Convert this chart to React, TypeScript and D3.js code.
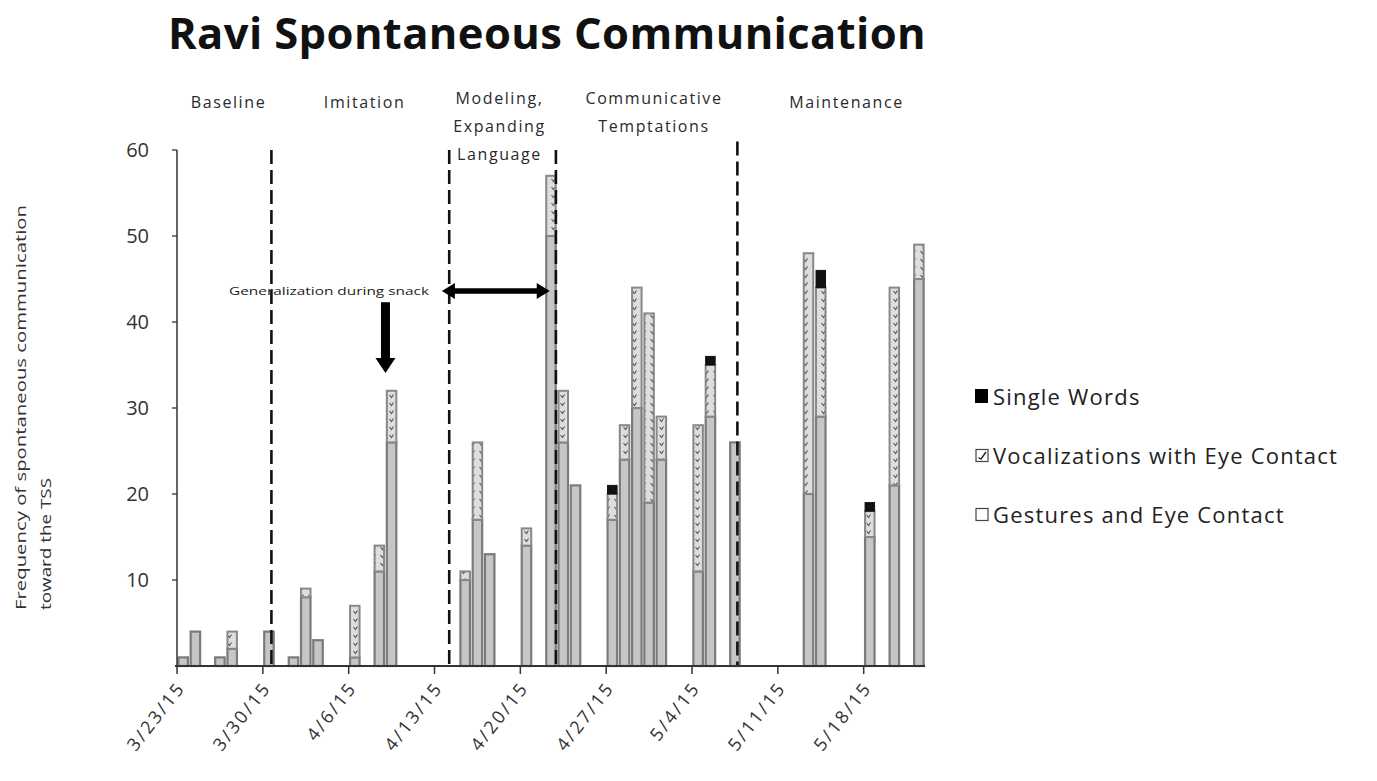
import React from "react";
import * as d3 from "d3";

const sessionDates = [
  "2015-03-23", "2015-03-24", "2015-03-26", "2015-03-27", "2015-03-30",
  "2015-04-01", "2015-04-02", "2015-04-03", "2015-04-06", "2015-04-08", "2015-04-09",
  "2015-04-15", "2015-04-16", "2015-04-17", "2015-04-20", "2015-04-22", "2015-04-23", "2015-04-24",
  "2015-04-27", "2015-04-28", "2015-04-29", "2015-04-30", "2015-05-01", "2015-05-04", "2015-05-05", "2015-05-07",
  "2015-05-13", "2015-05-14", "2015-05-18", "2015-05-20", "2015-05-22",
];
const gestures = [1, 4, 1, 2, 4, 1, 8, 3, 1, 11, 26, 10, 17, 13, 14, 50, 26, 21, 17, 24, 30, 19, 24, 11, 29, 26, 20, 29, 15, 21, 45];
const vocalizations = [0, 0, 0, 2, 0, 0, 1, 0, 6, 3, 6, 1, 9, 0, 2, 7, 6, 0, 3, 4, 14, 22, 5, 17, 6, 0, 28, 15, 3, 23, 4];
const singleWords = [0, 0, 0, 0, 0, 0, 0, 0, 0, 0, 0, 0, 0, 0, 0, 0, 0, 0, 1, 0, 0, 0, 0, 0, 1, 0, 0, 2, 1, 0, 0];

const seriesNames = ["Single Words", "Vocalizations with Eye Contact", "Gestures and Eye Contact"];
const yTicks = [10, 20, 30, 40, 50, 60];
const weekTicks = ["2015-03-23", "2015-03-30", "2015-04-06", "2015-04-13", "2015-04-20", "2015-04-27", "2015-05-04", "2015-05-11", "2015-05-18"];

// phase boundaries, as days after 3/23/15
const phaseLineDays = [7.7, 22.2, 30.9, 45.7];
const phaseLineTops = [60, 60, 60, 61];
const phaseLabels = [
  { lines: ["Baseline"], day: 4.2 },
  { lines: ["Imitation"], day: 15.3 },
  { lines: ["Modeling,", "Expanding", "Language"], day: 26.3 },
  { lines: ["Communicative", "Temptations"], day: 38.9 },
  { lines: ["Maintenance"], day: 54.6 },
];

const parse = d3.timeParse("%Y-%m-%d");
const start = parse("2015-03-23")!;
const end = parse("2015-05-23")!;
const fmt = d3.timeFormat("%-m/%-d/%y");

const FONT = "'Open Sans', 'Noto Sans', sans-serif";

export default function App() {
  const x = d3.scaleTime().domain([start, end]).range([177, 925]);
  const y = d3.scaleLinear().domain([0, 60]).range([666, 150]);
  const dayW = x(d3.timeDay.offset(start, 1)) - x(start);
  const barW = 9.5;
  const xDay = (d: number) => x(start) + d * dayW;

  const bars = sessionDates.map((s, i) => {
    const dt = parse(s)!;
    const cx = x(dt) + dayW / 2;
    const g = gestures[i], v = vocalizations[i], w = singleWords[i];
    return { cx, g, v, w };
  });

  const arrY = y(43.6);

  return (
    <svg width={1377} height={781} style={{ position: "absolute", left: 0, top: 0, background: "#fff" }} fontFamily={FONT}>
      <defs>
        <pattern id="hatch" patternUnits="userSpaceOnUse" width={9} height={8}>
          <rect width={9} height={8} fill="#dedede" />
          <path d="M2.5,3 L4.5,5.5 L6.5,2.5" stroke="#555" strokeWidth={1.1} fill="none" />
        </pattern>
      </defs>
      <rect width={1377} height={781} fill="#fff" />
      <text x={547} y={49} textAnchor="middle" fontSize={43.5} fontWeight="bold" fill="#111" letterSpacing={0.4}>
        Ravi Spontaneous Communication
      </text>

      {/* phase labels */}
      {phaseLabels.map((p, i) => (
        <text key={i} x={xDay(p.day)} y={p.lines.length > 1 ? 104 : 108} textAnchor="middle" fontSize={16} letterSpacing={1.6} fill="#2a2a2a">
          {p.lines.map((l, j) => (
            <tspan key={j} x={xDay(p.day)} dy={j === 0 ? 0 : 28}>{l}</tspan>
          ))}
        </text>
      ))}

      {/* bars */}
      {bars.map((b, i) => {
        const x0 = b.cx - barW / 2;
        const segs = [] as JSX.Element[];
        if (b.g > 0)
          segs.push(<rect key="g" x={x0} y={y(b.g)} width={barW} height={y(0) - y(b.g)} fill="#c6c6c6" stroke="#7a7a7a" strokeWidth={2.2} />);
        if (b.v > 0)
          segs.push(<rect key="v" x={x0} y={y(b.g + b.v)} width={barW} height={y(b.g) - y(b.g + b.v)} fill="url(#hatch)" stroke="#888" strokeWidth={2} />);
        if (b.w > 0)
          segs.push(<rect key="w" x={x0} y={y(b.g + b.v + b.w)} width={barW} height={y(b.g + b.v) - y(b.g + b.v + b.w)} fill="#111" stroke="#111" strokeWidth={1} />);
        return <g key={i}>{segs}</g>;
      })}

      {/* phase lines */}
      {phaseLineDays.map((d, i) => (
        <line key={i} x1={xDay(d)} x2={xDay(d)} y1={y(phaseLineTops[i])} y2={y(0)} stroke="#111" strokeWidth={2.6} strokeDasharray="14,6" />
      ))}

      {/* y axis */}
      <line x1={177} x2={177} y1={y(60)} y2={y(0)} stroke="#333" strokeWidth={1.5} />
      {yTicks.map((t) => (
        <g key={t}>
          <line x1={172} x2={177} y1={y(t)} y2={y(t)} stroke="#333" strokeWidth={1.3} />
          <text x={149} y={y(t) + 7} textAnchor="end" fontSize={20} fill="#333">{t}</text>
        </g>
      ))}
      <text transform="translate(26,610) rotate(-90)" textAnchor="start" fontSize={15} fill="#333" textLength={405} lengthAdjust="spacingAndGlyphs">
        Frequency of spontaneous communication
      </text>
      <text transform="translate(51,610) rotate(-90)" textAnchor="start" fontSize={15} fill="#333" textLength={132} lengthAdjust="spacingAndGlyphs">
        toward the TSS
      </text>

      {/* x axis */}
      <line x1={175} x2={925} y1={y(0)} y2={y(0)} stroke="#333" strokeWidth={2} />
      {weekTicks.map((s) => {
        const tx = x(parse(s)!);
        return (
          <g key={s}>
            <line x1={tx} x2={tx} y1={y(0)} y2={y(0) + 8} stroke="#333" strokeWidth={1.5} />
            <text transform={`translate(${tx + 9},${y(0) + 22}) rotate(-52)`} textAnchor="end" fontSize={18} letterSpacing={2.4} fill="#333">
              {fmt(parse(s)!)}
            </text>
          </g>
        );
      })}

      {/* generalization annotation */}
      <text x={229} y={295} fontSize={10} fill="#222" textLength={200} lengthAdjust="spacingAndGlyphs">Generalization during snack</text>
      <line x1={xDay(22.5)} x2={xDay(29.5)} y1={arrY} y2={arrY} stroke="#000" strokeWidth={5.5} />
      <path d={`M${xDay(21.6)},${arrY} l13,-8 l0,16 z`} fill="#000" />
      <path d={`M${xDay(30.4)},${arrY} l-13,-8 l0,16 z`} fill="#000" />
      <line x1={xDay(17)} x2={xDay(17)} y1={y(42.3)} y2={y(35.6)} stroke="#000" strokeWidth={9} />
      <path d={`M${xDay(17) - 10},${y(35.8)} l20,0 l-10,15 z`} fill="#000" />

      {/* legend */}
      {seriesNames.map((n, i) => {
        const ly = 397 + i * 59;
        return (
          <g key={n}>
            {i === 0 && <rect x={975} y={ly - 8} width={13} height={14} fill="#000" />}
            {i === 1 && (
              <g>
                <rect x={976} y={ly - 6.5} width={12} height={12} fill="#fff" stroke="#444" strokeWidth={1.2} />
                <path d={`M978.5,${ly + 1.5} L981,${ly + 3} L986,${ly - 4}`} stroke="#222" strokeWidth={1.4} fill="none" />
              </g>
            )}
            {i === 2 && <rect x={976} y={ly - 6.5} width={12} height={12} fill="#fff" stroke="#444" strokeWidth={1.2} />}
            <text x={993} y={ly + 8} fontSize={22} letterSpacing={1.2} fill="#222">{n}</text>
          </g>
        );
      })}
    </svg>
  );
}
